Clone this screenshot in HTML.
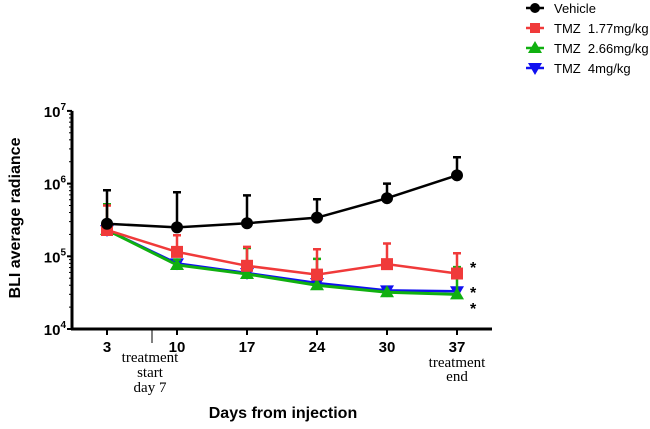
<!DOCTYPE html>
<html><head><meta charset="utf-8"><style>
body{margin:0;background:#fff}
svg{display:block;font-family:"Liberation Sans",Arial,sans-serif}
</style></head><body>
<svg id="c" width="650" height="429" viewBox="0 0 650 429">
<g id="axes"></g>
<g id="plot"></g>
<g id="legend"></g>
<text x="20" y="218" transform="rotate(-90 20 218)" text-anchor="middle" font-size="16" font-weight="bold">BLI average radiance</text>
<text x="283" y="418" text-anchor="middle" font-size="16" font-weight="bold">Days from injection</text>
<g font-family="Liberation Serif,serif" font-size="15" text-anchor="middle">
<text x="150" y="362"><tspan x="150">treatment</tspan><tspan x="150" dy="15">start</tspan><tspan x="150" dy="15">day 7</tspan></text>
<text x="457" y="367"><tspan x="457">treatment</tspan><tspan x="457" dy="14">end</tspan></text>
</g>
<g font-size="16" font-weight="bold">
<text x="470" y="273">*</text>
<text x="470" y="298">*</text>
<text x="470" y="314">*</text>
</g>
</svg>
<script>
const days=["3","10","17","24","30","37"];
const vehicle=[2.8e5,2.5e5,2.85e5,3.4e5,6.3e5,1.3e6];
const vehicleErr=[8.1e5,7.6e5,6.9e5,6.1e5,1.0e6,2.3e6];
const tmz177=[2.3e5,1.15e5,7.4e4,5.6e4,7.8e4,5.8e4];
const tmz177Err=[5e5,1.95e5,1.35e5,1.25e5,1.5e5,1.1e5];
const tmz266=[2.3e5,7.6e4,5.7e4,4.0e4,3.2e4,3.0e4];
const tmz266Err=[5.2e5,9e4,1.3e5,9.2e4,3.2e4,7.1e4];
const tmz4=[2.3e5,8e4,5.9e4,4.3e4,3.4e4,3.3e4];
const tmz4Err=[2.3e5,8e4,5.9e4,4.3e4,3.4e4,3.3e4];
const yTicks=[4,5,6,7];

const NS="http://www.w3.org/2000/svg";
const X0=72,XT0=107,XSTEP=70,YB=329,DEC=72.7;
function xs(i){return XT0+i*XSTEP;}
function ys(v){return YB-(Math.log10(v)-4)*DEC;}
function mk(tag,attrs,parent){const e=document.createElementNS(NS,tag);for(const k in attrs)e.setAttribute(k,attrs[k]);parent.appendChild(e);return e;}
const axes=document.getElementById('axes'),plot=document.getElementById('plot'),legend=document.getElementById('legend');

let a=mk('line',{x1:X0,y1:ys(1e7),x2:X0,y2:YB+1,stroke:'#000','stroke-width':3},axes);


a=mk('line',{x1:X0-1,y1:YB,x2:492,y2:YB,stroke:'#000','stroke-width':3},axes);


yTicks.forEach(p=>{
  const y=ys(Math.pow(10,p));
  let t=mk('line',{x1:X0-5,y1:y,x2:X0,y2:y,stroke:'#000','stroke-width':2},axes);
  
  
  for(let m=2;m<10&&p<7;m++){const ym=ys(m*Math.pow(10,p));mk('line',{x1:X0-3,y1:ym,x2:X0,y2:ym,stroke:'#000','stroke-width':1},axes);}
  const tx=mk('text',{x:X0-6,y:y+6,'text-anchor':'end','font-size':15,'font-weight':'bold'},axes);
  
  
  tx.textContent='10';
  const s=document.createElementNS(NS,'tspan');s.setAttribute('dy','-7');s.setAttribute('font-size','10');s.textContent=p;tx.appendChild(s);
});
days.forEach((d,i)=>{
  const x=xs(i);
  let t=mk('line',{x1:x,y1:YB,x2:x,y2:YB+6,stroke:'#000','stroke-width':2},axes);
  
  
  const tx=mk('text',{x:x,y:YB+23,'text-anchor':'middle','font-size':15,'font-weight':'bold'},axes);
  
  
  tx.textContent=d;
});
mk('line',{x1:152,y1:YB,x2:152,y2:YB+14,stroke:'#000','stroke-width':1},axes);

function marker(type,x,y,color,g){
  if(type==='circle')return mk('circle',{cx:x,cy:y,r:6,fill:color},g);
  if(type==='square')return mk('rect',{x:x-6,y:y-6,width:12,height:12,fill:color},g);
  if(type==='up')return mk('polygon',{points:`${x},${y-7} ${x-7},${y+5} ${x+7},${y+5}`,fill:color},g);
  return mk('polygon',{points:`${x},${y+7} ${x-7},${y-5} ${x+7},${y-5}`,fill:color},g);
}
const series=[
  {name:'tmz-4mg',vals:tmz4,err:tmz4Err,color:'#1010f0',m:'down',w:2.5},
  {name:'tmz-2-66mg',vals:tmz266,err:tmz266Err,color:'#10b010',m:'up',w:3},
  {name:'tmz-1-77mg',vals:tmz177,err:tmz177Err,color:'#f03a3a',m:'square',w:2.5},
  {name:'vehicle',vals:vehicle,err:vehicleErr,color:'#000',m:'circle',w:2.5}
];
series.forEach(s=>{
  const g=mk('g',{},plot);
  
  
  s.vals.forEach((v,i)=>{
    if(s.err[i]>v){
      const x=xs(i);
      const e=mk('path',{d:`M${x},${ys(v)}V${ys(s.err[i])}M${x-4},${ys(s.err[i])}H${x+4}`,stroke:s.color,'stroke-width':2.5,fill:'none'},g);
      
      
    }
  });
  const pl=mk('polyline',{points:s.vals.map((v,i)=>xs(i)+','+ys(v)).join(' '),fill:'none',stroke:s.color,'stroke-width':s.w},g);
  
  
  s.vals.forEach((v,i)=>{
    const m=marker(s.m,xs(i),ys(v),s.color,g);
    
    
  });
});
const leg=[['Vehicle','#000','circle'],['TMZ  1.77mg/kg','#f03a3a','square'],['TMZ  2.66mg/kg','#10b010','up'],['TMZ  4mg/kg','#1010f0','down']];
leg.forEach((l,i)=>{
  const y=8+i*20;
  const g=mk('g',{},legend);
  
  
  mk('line',{x1:526,y1:y,x2:544,y2:y,stroke:l[1],'stroke-width':2.5},g);
  const m=marker(l[2],535,y,l[1],g);
  if(l[2]==='circle')m.setAttribute('r',5);
  if(l[2]==='square'){m.setAttribute('x',530);m.setAttribute('y',y-5);m.setAttribute('width',10);m.setAttribute('height',10);}
  const t=mk('text',{x:554,y:y+5,'font-size':13,'xml:space':'preserve'},g);
  t.setAttribute('style','white-space:pre');
  t.textContent=l[0];
});
</script>
</body></html>
